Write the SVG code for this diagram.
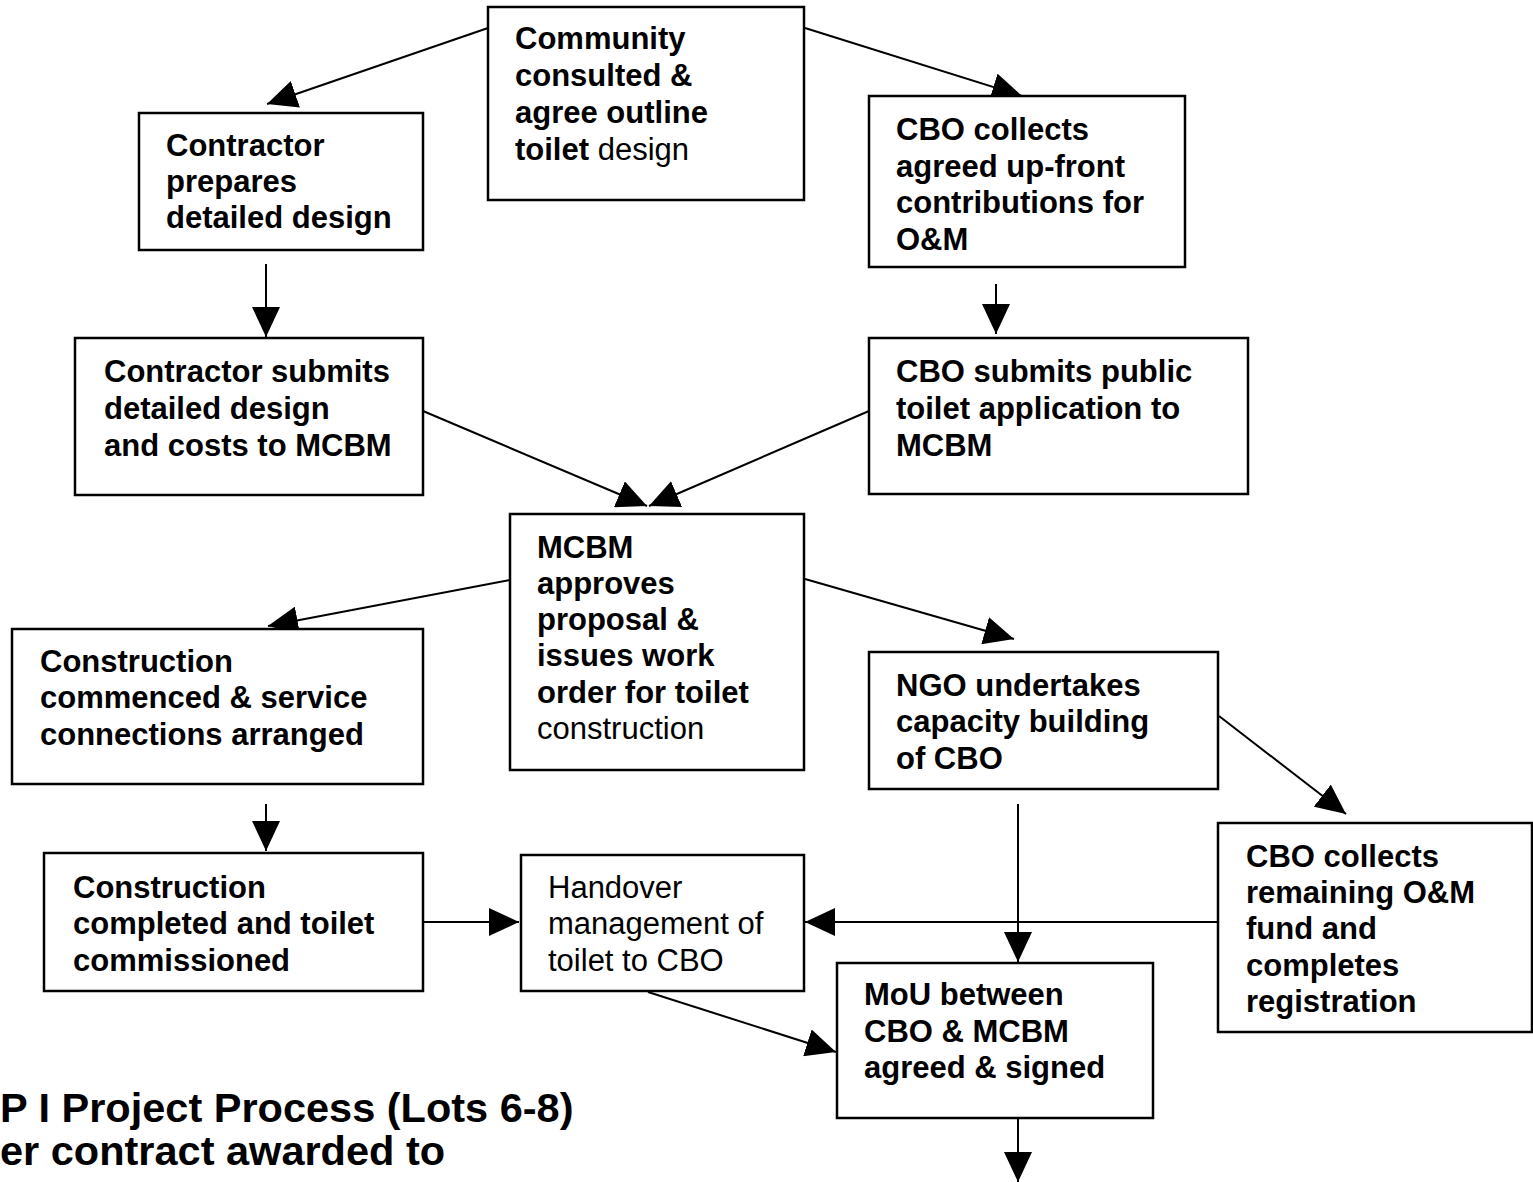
<svg xmlns="http://www.w3.org/2000/svg" width="1533" height="1182" viewBox="0 0 1533 1182">
<style>
.box{fill:#fff;stroke:#000;stroke-width:2.5}
.t{font-family:"Liberation Sans",Arial,sans-serif;font-size:31px;font-weight:bold;fill:#000}
.r{font-weight:normal}
.c{stroke:#000;stroke-width:2;fill:none;marker-end:url(#ah)}
.title{font-family:"Liberation Sans",Arial,sans-serif;font-size:41.5px;font-weight:bold;fill:#000}
</style>
<defs>
<marker id="ah" markerUnits="userSpaceOnUse" markerWidth="31" markerHeight="28" refX="30" refY="14" orient="auto" viewBox="0 0 31 28">
<path d="M0,0 L30,14 L0,28 z" fill="#000"/>
</marker>
</defs>
<rect width="1533" height="1182" fill="#fff"/>
<g id="connectors">
<line class="c" x1="488" y1="28" x2="267" y2="104"/>
<line class="c" x1="805" y1="28" x2="1022" y2="96"/>
<line class="c" x1="266" y1="264" x2="266" y2="337"/>
<line class="c" x1="996" y1="284" x2="996" y2="334"/>
<line class="c" x1="423" y1="411" x2="647" y2="506"/>
<line class="c" x1="869" y1="411" x2="649" y2="506"/>
<line class="c" x1="510" y1="580" x2="268" y2="626"/>
<line class="c" x1="805" y1="579" x2="1014" y2="639"/>
<line class="c" x1="266" y1="804" x2="266" y2="851"/>
<line class="c" x1="1018" y1="804" x2="1018" y2="962"/>
<line class="c" x1="1219" y1="716" x2="1346" y2="814"/>
<line class="c" x1="423" y1="922" x2="519" y2="922"/>
<line class="c" x1="1218" y1="922" x2="805" y2="922"/>
<line class="c" x1="648" y1="992" x2="836" y2="1052"/>
<line class="c" x1="1018" y1="1119" x2="1018" y2="1182"/>
</g>
<g id="n1"><rect class="box" x="488" y="7" width="316" height="193"/>
<text class="t" x="515" y="49">Community</text>
<text class="t" x="515" y="86">consulted &amp;</text>
<text class="t" x="515" y="123">agree outline</text>
<text class="t" x="515" y="160">toilet <tspan class="r">design</tspan></text></g>
<g id="n2"><rect class="box" x="139" y="113" width="284" height="137"/>
<text class="t" x="166" y="156">Contractor</text>
<text class="t" x="166" y="192">prepares</text>
<text class="t" x="166" y="228">detailed design</text></g>
<g id="n3"><rect class="box" x="869" y="96" width="316" height="171"/>
<text class="t" x="896" y="140">CBO collects</text>
<text class="t" x="896" y="177">agreed up-front</text>
<text class="t" x="896" y="213">contributions for</text>
<text class="t" x="896" y="250">O&amp;M</text></g>
<g id="n4"><rect class="box" x="75" y="338" width="348" height="157"/>
<text class="t" x="104" y="382">Contractor submits</text>
<text class="t" x="104" y="419">detailed design</text>
<text class="t" x="104" y="456">and costs to MCBM</text></g>
<g id="n5"><rect class="box" x="869" y="338" width="379" height="156"/>
<text class="t" x="896" y="382">CBO submits public</text>
<text class="t" x="896" y="419">toilet application to</text>
<text class="t" x="896" y="456">MCBM</text></g>
<g id="n6"><rect class="box" x="510" y="514" width="294" height="256"/>
<text class="t" x="537" y="558">MCBM</text>
<text class="t" x="537" y="594">approves</text>
<text class="t" x="537" y="630">proposal &amp;</text>
<text class="t" x="537" y="666">issues work</text>
<text class="t" x="537" y="703">order for toilet</text>
<text class="t r" x="537" y="739">construction</text></g>
<g id="n7"><rect class="box" x="12" y="629" width="411" height="155"/>
<text class="t" x="40" y="672">Construction</text>
<text class="t" x="40" y="708">commenced &amp; service</text>
<text class="t" x="40" y="745">connections arranged</text></g>
<g id="n8"><rect class="box" x="869" y="652" width="349" height="137"/>
<text class="t" x="896" y="696">NGO undertakes</text>
<text class="t" x="896" y="732">capacity building</text>
<text class="t" x="896" y="769">of CBO</text></g>
<g id="n9"><rect class="box" x="44" y="853" width="379" height="138"/>
<text class="t" x="73" y="898">Construction</text>
<text class="t" x="73" y="934">completed and toilet</text>
<text class="t" x="73" y="971">commissioned</text></g>
<g id="n10"><rect class="box" x="521" y="855" width="283" height="136"/>
<text class="t r" x="548" y="898">Handover</text>
<text class="t r" x="548" y="934">management of</text>
<text class="t r" x="548" y="971">toilet to CBO</text></g>
<g id="n11"><rect class="box" x="1218" y="823" width="314" height="209"/>
<text class="t" x="1246" y="867">CBO collects</text>
<text class="t" x="1246" y="903">remaining O&amp;M</text>
<text class="t" x="1246" y="939">fund and</text>
<text class="t" x="1246" y="976">completes</text>
<text class="t" x="1246" y="1012">registration</text></g>
<g id="n12"><rect class="box" x="837" y="963" width="316" height="155"/>
<text class="t" x="864" y="1005">MoU between</text>
<text class="t" x="864" y="1042">CBO &amp; MCBM</text>
<text class="t" x="864" y="1078">agreed &amp; signed</text></g>
<g id="title">
<text class="title" x="0" y="1122">P I Project Process (Lots 6-8)</text>
<text class="title" x="0" y="1165">er contract awarded to</text>
</g>
</svg>
